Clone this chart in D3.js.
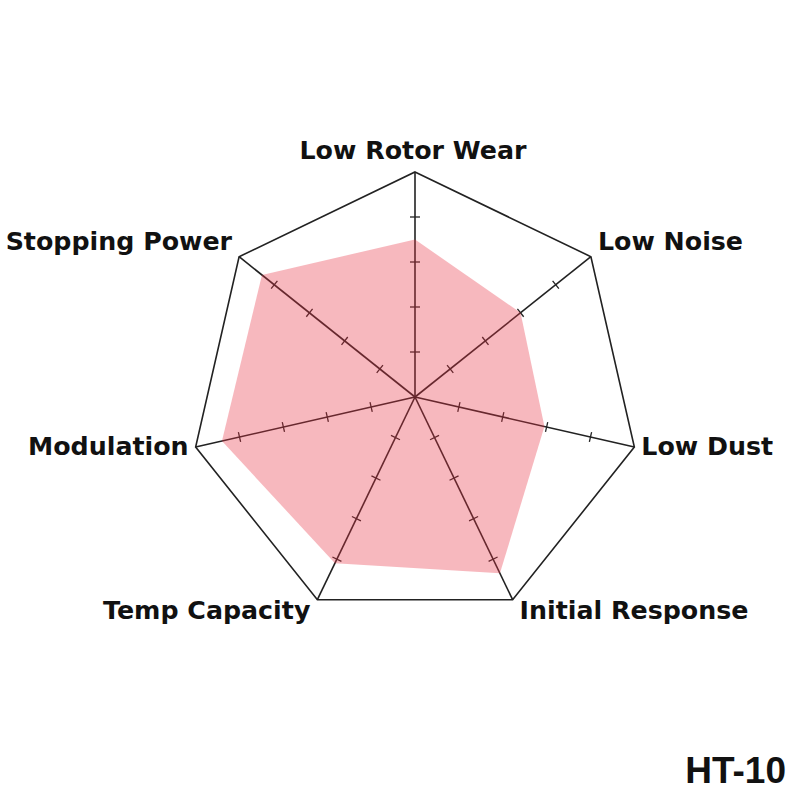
<!DOCTYPE html>
<html>
<head>
<meta charset="utf-8">
<script src="https://cdn.jsdelivr.net/npm/d3@7"></script>
<style>
  body { margin: 0; background: #fff; }
</style>
</head>
<body>
<div id="chart"></div>
<script>
const axesNames = ["Low Rotor Wear", "Low Noise", "Low Dust", "Initial Response", "Temp Capacity", "Modulation", "Stopping Power"];
const ratings = [3.5, 3, 2.95, 4.35, 4.1, 4.4, 4.35];
const tickValues = [1, 2, 3, 4];
const maxRating = 5;
const productName = "HT-10";

function renderRadar() {
    const width = 800;
    const height = 800;
    const cx = 415, cy = 397;
    const R = 225;

    const svg = d3.select("#chart").append("svg")
        .attr("width", width)
        .attr("height", height)
        .style("display", "block");

    const r = d3.scaleLinear().domain([0, maxRating]).range([0, R]);
    const angle = d3.scaleLinear().domain([0, axesNames.length]).range([-Math.PI / 2, 1.5 * Math.PI]);

    const pt = (i, v) => [cx + r(v) * Math.cos(angle(i)), cy + r(v) * Math.sin(angle(i))];

    const g = svg.append("g");

    // outer heptagon
    g.append("path")
        .attr("d", d3.line()(axesNames.map((d, i) => pt(i, maxRating))) + "Z")
        .attr("fill", "none")
        .attr("stroke", "#222")
        .attr("stroke-width", 1.6)
        .attr("stroke-linejoin", "miter");

    // spokes
    g.selectAll(".spoke")
        .data(axesNames)
        .join("line")
        .attr("class", "spoke")
        .attr("x1", cx).attr("y1", cy)
        .attr("x2", (d, i) => pt(i, maxRating)[0])
        .attr("y2", (d, i) => pt(i, maxRating)[1])
        .attr("stroke", "#222")
        .attr("stroke-width", 1.6);

    // tick marks
    const ticks = [];
    axesNames.forEach((d, i) => tickValues.forEach(t => ticks.push({ i, t })));
    g.selectAll(".tick")
        .data(ticks)
        .join("line")
        .attr("class", "tick")
        .each(function (d) {
            const a = angle(d.i);
            const [x, y] = pt(d.i, d.t);
            const px = -Math.sin(a) * 5, py = Math.cos(a) * 5;
            d3.select(this)
                .attr("x1", x - px).attr("y1", y - py)
                .attr("x2", x + px).attr("y2", y + py);
        })
        .attr("stroke", "#222")
        .attr("stroke-width", 1.3);

    // value area (semi transparent so the spokes show through)
    g.append("path")
        .attr("d", d3.line()(ratings.map((v, i) => pt(i, v))) + "Z")
        .attr("fill", "rgb(233,52,70)")
        .attr("fill-opacity", 0.35)
        .attr("stroke", "none");

    // axis labels
    svg.append("g")
        .selectAll("text")
        .data(axesNames)
        .join("text")
        .attr("x", (d, i) => {
            const c = Math.cos(angle(i));
            const [x] = pt(i, maxRating);
            return Math.abs(c) < 0.1 ? x - 2 : x + (c > 0 ? 7 : -7);
        })
        .attr("y", (d, i) => pt(i, maxRating)[1] + 17 * Math.sin(angle(i)) - 5)
        .attr("dy", "0.36em")
        .attr("text-anchor", (d, i) => {
            const c = Math.cos(angle(i));
            return Math.abs(c) < 0.1 ? "middle" : (c > 0 ? "start" : "end");
        })
        .style("font-family", "'DejaVu Sans', sans-serif")
        .style("font-weight", "bold")
        .style("font-size", "25.3px")
        .style("fill", "#111")
        .text(d => d);

    svg.append("text")
        .attr("x", 786)
        .attr("y", 783)
        .attr("text-anchor", "end")
        .style("font-family", "'Liberation Sans', Arial, sans-serif")
        .style("font-weight", "bold")
        .style("font-size", "37px")
        .style("fill", "#111")
        .text(productName);
}

document.addEventListener("DOMContentLoaded", function () {
    renderRadar();
});
</script>
</body>
</html>
